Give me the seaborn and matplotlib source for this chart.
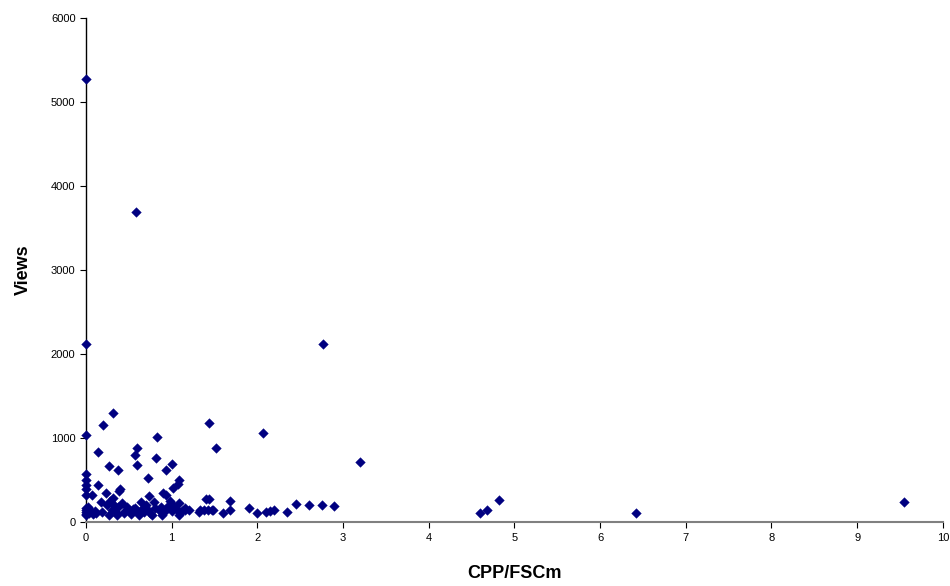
import matplotlib
matplotlib.use("Agg")
import matplotlib.pyplot as plt
import seaborn as sns
import pandas as pd

# Datos (CPP/FSCm vs Views)
cpp = [0, 0.58, 0, 2.77, 0.32, 0.2, 0, 1.43, 0.83, 2.07,
       0.14, 0.6, 0.57, 1.52, 0.27, 0.6, 0.37, 1.0, 0.93, 0.82,
       3.2, 1.08, 1.07, 1.02, 0.72, 0, 0, 0, 0,
       4.6, 4.68, 4.82, 6.42, 9.55,
       2.9, 2.75, 2.6, 2.45, 2.35, 2.2, 2.15, 2.1, 2.0, 1.9,
       1.68, 1.68, 1.6, 1.47, 1.43, 1.38, 1.33, 1.2, 1.15,
       0, 0, 0, 0, 0, 0, 0.03, 0.05, 0.07, 0.08, 0.1,
       0.14, 0.17, 0.19, 0.23, 0.27, 0.28, 0.3, 0.32, 0.33, 0.35,
       0.37, 0.38, 0.4, 0.42, 0.45, 0.48, 0.5, 0.53, 0.55, 0.57,
       0.6, 0.62, 0.64, 0.66, 0.7, 0.72, 0.73, 0.75, 0.77, 0.79,
       0.81, 0.85, 0.89, 0.9, 0.93, 0.93, 0.96, 0.98, 1.0, 1.02,
       1.05, 1.08, 1.08, 1.1, 1.16, 1.32, 1.42, 1.48, 1.4,
       0.02, 0.12, 0.25, 0.36, 0.44, 0.68, 0.87, 1.12]
views = [5280, 3690, 2120, 2120, 1300, 1160, 1040, 1180, 1010, 1060,
         840, 880, 800, 880, 670, 680, 620, 690, 620, 760,
         720, 500, 450, 410, 520, 570, 500, 440, 400,
         110, 140, 260, 110, 240,
         190, 200, 200, 210, 120, 140, 130, 120, 110, 170,
         250, 140, 110, 150, 280, 150, 140, 150, 170,
         320, 165, 140, 100, 120, 90, 110, 150, 320, 100, 130,
         440, 240, 120, 345, 90, 250, 150, 285, 200, 120,
         180, 370, 400, 230, 130, 180, 150, 100, 160, 170,
         130, 90, 240, 165, 200, 143, 310, 110, 90, 240,
         170, 143, 85, 345, 320, 143, 190, 250, 130, 200,
         160, 225, 85, 120, 143, 120, 143, 143, 275,
         180, 110, 200, 90, 110, 120, 180, 130]

df = pd.DataFrame({"CPP/FSCm": cpp, "Views": views})

sns.set_style("white")
plt.rcParams["font.family"] = ["Liberation Sans", "DejaVu Sans"]

fig = plt.figure(figsize=(9.5, 5.86), dpi=100)
ax = fig.add_axes([0.0905, 0.109, 0.902, 0.86])

sns.scatterplot(data=df, x="CPP/FSCm", y="Views", marker="D", s=24,
                color="#000080", edgecolor="#000080", linewidth=0.3,
                clip_on=False, zorder=3, ax=ax)

ax.set_xlim(0, 10)
ax.set_ylim(0, 6000)
ax.set_xticks(range(0, 11))
ax.set_yticks(range(0, 6001, 1000))
ax.tick_params(axis="both", labelsize=8, direction="out", length=4, width=0.8,
               colors="black", labelcolor="black", left=True, bottom=True)
ax.set_xlabel("CPP/FSCm", fontsize=13, fontweight="bold", labelpad=16, color="black")
ax.set_ylabel("Views", fontsize=13, fontweight="bold", labelpad=14, color="black")

for s in ["top", "right"]:
    ax.spines[s].set_visible(False)
ax.spines["left"].set_color("black")
ax.spines["left"].set_linewidth(1)
ax.spines["bottom"].set_color("#808080")
ax.spines["bottom"].set_linewidth(1.5)

fig.savefig("out.png", dpi=100)
